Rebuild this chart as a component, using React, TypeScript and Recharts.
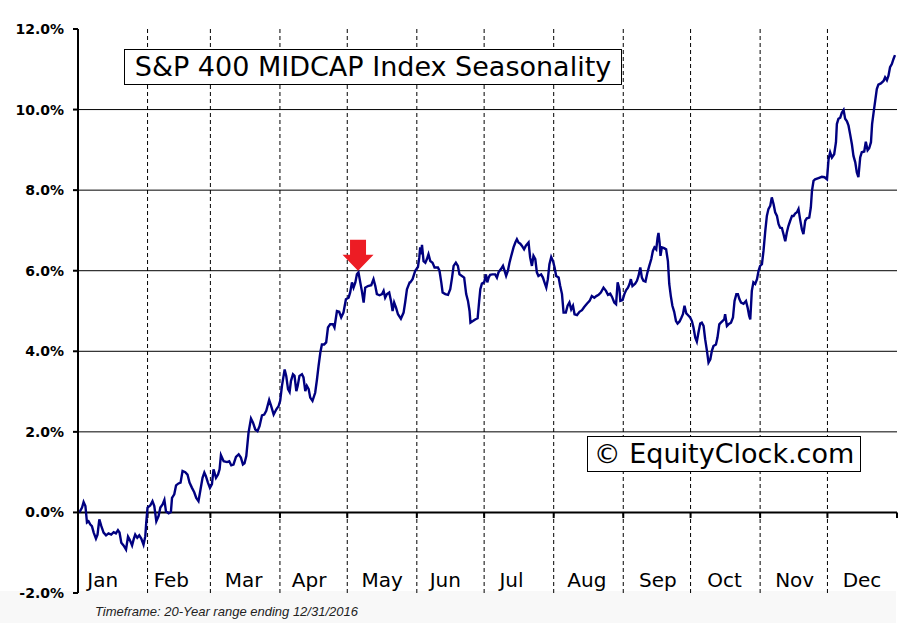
import { LineChart, Line, XAxis, YAxis, ReferenceLine, ReferenceDot } from "recharts";

// day of year (0-365) and seasonal return (%)
const days = [
  0.6, 1.8, 2.5, 3.3, 4.0, 4.7, 5.5, 6.2, 7.0, 8.0, 8.7, 9.5, 10.4, 11.4, 12.5, 13.6, 14.8, 15.9, 16.9, 17.8,
  18.5, 19.3, 20.3, 21.4, 22.3, 23.0, 24.1, 24.8, 25.5, 26.4, 27.3, 28.2, 29.2, 30.0, 30.4, 31.0, 32.2, 33.2, 34.0, 34.9,
  35.9, 36.7, 37.7, 38.5, 39.2, 40.4, 41.4, 41.9, 42.9, 43.7, 44.8, 45.7, 46.6, 47.8, 48.8, 49.7, 50.8, 51.8, 52.7, 53.7,
  54.6, 55.5, 56.3, 57.0, 57.9, 58.8, 59.7, 60.4, 61.5, 62.4, 63.1, 63.7, 64.9, 66.4, 67.4, 68.3, 69.3, 70.4, 71.6, 72.6,
  73.5, 74.2, 75.0, 76.0, 77.1, 78.0, 79.0, 80.0, 80.9, 82.0, 83.0, 83.9, 85.2, 86.1, 87.2, 88.4, 89.4, 90.1, 90.9, 92.1,
  92.8, 93.6, 94.3, 94.9, 95.8, 96.5, 97.3, 97.9, 98.7, 99.8, 100.5, 101.3, 102.0, 102.8, 103.5, 104.5, 105.7, 106.5, 107.2, 108.0,
  108.7, 109.7, 110.6, 111.4, 112.4, 113.6, 114.3, 115.4, 116.4, 117.3, 118.3, 119.4, 120.6, 121.3, 122.1, 122.8, 123.6, 124.3, 125.0, 125.8,
  126.5, 127.3, 128.0, 129.2, 130.7, 131.7, 132.5, 133.2, 134.4, 135.5, 136.2, 136.9, 137.7, 138.7, 139.5, 140.2, 140.9, 141.7, 142.6, 143.9,
  145.1, 145.8, 146.6, 147.8, 148.1, 149.1, 150.3, 151.5, 152.1, 152.5, 153.0, 153.3, 154.0, 154.8, 155.5, 156.2, 157.0, 158.0, 158.9, 160.4,
  161.1, 161.9, 162.5, 163.7, 164.9, 165.9, 166.7, 167.4, 168.4, 169.3, 170.0, 171.1, 172.1, 173.0, 173.8, 174.5, 174.9, 176.0, 177.0, 178.1,
  178.8, 179.3, 180.0, 181.0, 181.8, 182.4, 183.0, 183.7, 184.7, 185.9, 186.7, 187.4, 188.5, 189.4, 190.1, 190.8, 191.6, 192.3, 193.1, 194.1,
  194.9, 195.6, 196.3, 197.1, 197.8, 198.8, 199.6, 200.8, 201.5, 202.3, 203.0, 203.8, 204.5, 205.2, 206.4, 207.2, 207.9, 208.7, 209.4, 210.1,
  210.9, 211.7, 212.4, 213.1, 214.2, 214.9, 215.7, 216.4, 217.4, 218.2, 219.0, 219.8, 220.6, 221.3, 222.4, 223.5, 224.6, 225.6, 226.8, 228.0,
  229.0, 230.1, 231.0, 232.0, 233.0, 234.2, 235.3, 236.2, 237.2, 238.0, 239.0, 239.8, 240.5, 241.3, 241.7, 242.7, 243.5, 244.3, 245.1, 245.8,
  246.4, 247.1, 248.3, 249.1, 249.8, 250.6, 251.3, 252.0, 252.9, 253.8, 254.6, 255.5, 256.2, 256.9, 257.7, 258.3, 258.7, 259.2, 259.6, 260.2,
  261.2, 262.1, 262.9, 263.5, 264.2, 264.9, 265.7, 266.5, 267.2, 268.1, 268.8, 269.6, 270.3, 271.1, 271.8, 272.8, 273.6, 274.3, 275.1, 275.8,
  276.5, 277.3, 278.0, 278.8, 279.5, 280.3, 281.0, 281.8, 282.5, 283.2, 284.3, 285.0, 285.8, 286.5, 287.2, 288.0, 288.4, 289.2, 289.9, 291.0,
  291.9, 292.6, 293.4, 294.1, 294.8, 295.5, 296.6, 297.7, 298.4, 299.1, 299.6, 300.3, 301.0, 301.8, 302.6, 303.3, 304.0, 304.8, 305.5, 306.3,
  307.0, 307.7, 308.5, 309.2, 310.0, 310.7, 311.5, 312.2, 312.9, 313.7, 314.4, 315.2, 315.9, 316.6, 317.4, 318.2, 318.9, 319.6, 320.4, 321.1,
  321.8, 322.6, 323.3, 324.1, 324.8, 325.9, 326.6, 327.1, 327.8, 328.5, 330.0, 331.5, 332.7, 333.8, 334.5, 335.2, 336.0, 337.0, 337.8, 338.2,
  338.9, 339.7, 340.4, 341.2, 341.9, 342.7, 343.4, 344.1, 344.9, 345.6, 346.4, 347.1, 347.8, 348.6, 349.3, 350.4, 351.1, 351.9, 352.6, 353.4,
  353.9, 354.7, 355.3, 356.0, 356.7, 357.8, 359.0, 359.7, 360.5, 361.2, 361.9, 362.7, 363.4, 364.1,
];

const values = [
  0.0, 0.12, 0.26, 0.16, -0.25, -0.22, -0.3, -0.34, -0.5, -0.65, -0.55, -0.17, -0.34, -0.5, -0.57, -0.52, -0.55, -0.49, -0.52, -0.44,
  -0.5, -0.75, -0.82, -0.92, -0.6, -0.67, -0.82, -0.67, -0.55, -0.63, -0.57, -0.65, -0.8, -0.59, -0.26, 0.12, 0.17, 0.28, 0.16, -0.22,
  -0.09, 0.12, 0.2, 0.31, 0.03, -0.02, 0.01, 0.36, 0.45, 0.67, 0.72, 0.74, 1.03, 1.0, 0.94, 0.74, 0.61, 0.5, 0.36, 0.28,
  0.57, 0.86, 0.99, 0.9, 0.74, 0.61, 0.7, 1.07, 0.86, 0.94, 1.07, 1.42, 1.27, 1.25, 1.27, 1.17, 1.19, 1.38, 1.44, 1.36,
  1.19, 1.22, 1.4, 1.98, 2.33, 2.23, 2.06, 2.02, 2.14, 2.41, 2.43, 2.52, 2.79, 2.64, 2.43, 2.56, 2.64, 2.77, 3.14, 3.55,
  3.39, 3.06, 2.99, 3.26, 3.43, 3.39, 3.01, 3.14, 3.39, 3.43, 3.35, 3.01, 3.14, 3.06, 2.85, 2.77, 2.97, 3.3, 3.63, 3.97,
  4.17, 4.17, 4.22, 4.59, 4.67, 4.67, 4.59, 5.0, 4.98, 4.84, 4.96, 5.29, 5.33, 5.46, 5.71, 5.58, 5.71, 5.91, 5.96, 5.71,
  5.5, 5.21, 5.58, 5.62, 5.64, 5.79, 5.62, 5.42, 5.39, 5.42, 5.5, 5.33, 5.42, 5.46, 5.25, 5.0, 5.21, 5.09, 4.92, 4.81,
  4.96, 5.21, 5.54, 5.71, 5.71, 5.79, 6.0, 6.09, 6.33, 6.58, 6.41, 6.64, 6.24, 6.2, 6.29, 6.41, 6.24, 6.2, 6.08, 6.08,
  6.0, 5.71, 5.46, 5.42, 5.4, 5.54, 5.83, 6.12, 6.2, 6.12, 5.91, 5.87, 5.83, 5.42, 5.25, 5.0, 4.71, 4.75, 4.79, 4.82,
  5.25, 5.54, 5.68, 5.71, 5.91, 5.71, 5.83, 5.9, 5.91, 5.91, 5.83, 5.96, 6.04, 6.12, 6.0, 5.87, 6.0, 6.2, 6.37, 6.58,
  6.7, 6.78, 6.7, 6.67, 6.62, 6.53, 6.62, 6.7, 6.33, 6.12, 6.37, 6.29, 5.96, 5.87, 5.91, 5.83, 5.71, 5.58, 5.79, 6.16,
  6.34, 6.24, 6.08, 5.87, 5.83, 5.62, 5.42, 4.96, 4.96, 5.13, 5.21, 5.04, 5.13, 4.92, 4.9, 4.98, 5.02, 5.1, 5.18, 5.25,
  5.37, 5.33, 5.37, 5.4, 5.46, 5.58, 5.5, 5.4, 5.43, 5.35, 5.21, 5.17, 5.71, 5.54, 5.25, 5.27, 5.42, 5.52, 5.58, 5.67,
  5.79, 5.62, 5.68, 5.75, 5.87, 6.08, 5.83, 5.75, 5.73, 5.96, 6.12, 6.29, 6.49, 6.58, 6.53, 6.82, 6.94, 6.7, 6.37, 6.58,
  6.56, 6.53, 6.24, 5.67, 5.37, 5.13, 4.98, 4.75, 4.69, 4.74, 4.82, 4.92, 5.13, 4.94, 4.9, 4.84, 4.75, 4.59, 4.34, 4.24,
  4.46, 4.69, 4.71, 4.63, 4.3, 4.01, 3.72, 3.8, 4.01, 4.13, 4.17, 4.34, 4.67, 4.71, 4.75, 4.79, 4.92, 4.63, 4.67, 4.71,
  4.84, 5.25, 5.42, 5.42, 5.29, 5.21, 5.18, 5.25, 5.09, 4.88, 4.79, 5.5, 5.71, 5.67, 5.79, 6.0, 6.12, 6.16, 6.49, 6.99,
  7.36, 7.53, 7.61, 7.82, 7.65, 7.45, 7.36, 7.16, 7.07, 7.06, 6.91, 6.73, 6.95, 7.11, 7.24, 7.36, 7.36, 7.42, 7.45, 7.53,
  7.28, 7.03, 6.91, 7.24, 7.3, 7.32, 7.57, 7.98, 8.23, 8.27, 8.3, 8.33, 8.32, 8.27, 8.77, 8.94, 8.81, 8.89, 9.19, 9.64,
  9.77, 9.8, 9.92, 9.99, 9.77, 9.71, 9.6, 9.39, 9.14, 8.85, 8.69, 8.44, 8.32, 8.81, 8.94, 8.96, 9.2, 8.99, 9.04, 9.19,
  9.64, 9.98, 10.22, 10.51, 10.62, 10.65, 10.71, 10.8, 10.73, 10.84, 11.05, 11.13, 11.25, 11.35,
];

const monthNames = ["Jan", "Feb", "Mar", "Apr", "May", "Jun", "Jul", "Aug", "Sep", "Oct", "Nov", "Dec"];
const monthStarts = [31, 59, 90, 120, 151, 181, 212, 243, 273, 304, 334];
const labelDays = [11, 41.6, 73.8, 103, 135.6, 163.7, 193.2, 226.8, 258.4, 288.1, 319.4, 349.4];
const yTicks = [-2, 0, 2, 4, 6, 8, 10, 12];
const gridLevels = [2, 4, 6, 8, 10];
const zeroTicks = [...monthStarts, 365];
const arrowDay = 124.8;
const arrowValue = 6.0;

const data = days.map((d, i) => ({ day: d, value: values[i] }));

const FONT = "'DejaVu Sans', Verdana, sans-serif";

function MonthTick(props: any) {
  const { x, y, payload } = props;
  const idx = labelDays.indexOf(payload.value);
  return (
    <text x={x} y={y - 6} textAnchor="middle" fontSize={20} fontFamily={FONT} fill="#000">
      {monthNames[idx]}
    </text>
  );
}

function Arrow(props: any) {
  const { cx, cy } = props;
  const pts = [
    [-8, -31], [8, -31], [8, -16], [15.5, -16], [0, 0], [-15.5, -16], [-8, -16],
  ]
    .map(([dx, dy]) => `${cx + dx},${cy + dy}`)
    .join(" ");
  return <polygon points={pts} fill="#ed1c24" />;
}

const boxStyle: React.CSSProperties = {
  position: "absolute",
  height: 34,
  lineHeight: "34px",
  border: "1px solid #000",
  background: "#fff",
  fontFamily: FONT,
  fontSize: 27,
  textAlign: "center",
  whiteSpace: "nowrap",
  color: "#000",
};

export default function App() {
  return (
    <div style={{ position: "absolute", left: 0, top: 0, width: 911, height: 623, background: "#fff", overflow: "hidden" }}>
      <div style={{ position: "absolute", left: 0, top: 591, width: 896, height: 32, background: "#f8f8f8" }} />
      <div style={{ position: "absolute", left: 0, top: 0 }}>
        <LineChart width={911} height={623} data={data} margin={{ top: 29, right: 14, left: 0, bottom: 0 }}>
          <XAxis
            type="number"
            dataKey="day"
            domain={[0, 365]}
            ticks={labelDays}
            interval={0}
            tick={<MonthTick />}
            axisLine={false}
            tickLine={false}
            tickSize={0}
            tickMargin={0}
            height={30}
          />
          <YAxis
            type="number"
            domain={[-2, 12]}
            ticks={yTicks}
            interval={0}
            width={78}
            axisLine={{ stroke: "#000", strokeWidth: 2 }}
            tickLine={{ stroke: "#000", strokeWidth: 2 }}
            tickSize={5}
            tickMargin={9}
            tickFormatter={(v: number) => `${v.toFixed(1)}%`}
            tick={{ fill: "#000", fontSize: 14, fontWeight: "bold", fontFamily: FONT }}
          />
          {monthStarts.map((d) => (
            <ReferenceLine key={`m${d}`} x={d} stroke="#000" strokeWidth={1} strokeDasharray="4 3" />
          ))}
          {gridLevels.map((v) => (
            <ReferenceLine key={`g${v}`} y={v} stroke="#000" strokeWidth={1} />
          ))}
          <ReferenceLine y={0} stroke="#000" strokeWidth={2} />
          {zeroTicks.map((d) => (
            <ReferenceLine
              key={`t${d}`}
              segment={[{ x: d, y: 0 }, { x: d, y: -0.14 }]}
              stroke="#000"
              strokeWidth={2}
            />
          ))}
          <Line
            type="linear"
            dataKey="value"
            stroke="#000080"
            strokeWidth={2.4}
            dot={false}
            isAnimationActive={false}
          />
          <ReferenceDot x={arrowDay} y={arrowValue} r={0} shape={<Arrow />} />
        </LineChart>
      </div>
      <div style={{ ...boxStyle, left: 124, top: 49, width: 496 }}>S&amp;P 400 MIDCAP Index Seasonality</div>
      <div style={{ ...boxStyle, left: 587, top: 436, width: 272 }}>© EquityClock.com</div>
      <div
        style={{
          position: "absolute",
          left: 95,
          top: 604,
          fontFamily: "'Liberation Sans', Arial, sans-serif",
          fontStyle: "italic",
          fontSize: 13,
          color: "#222",
          whiteSpace: "nowrap",
        }}
      >
        Timeframe: 20-Year range ending 12/31/2016
      </div>
    </div>
  );
}
